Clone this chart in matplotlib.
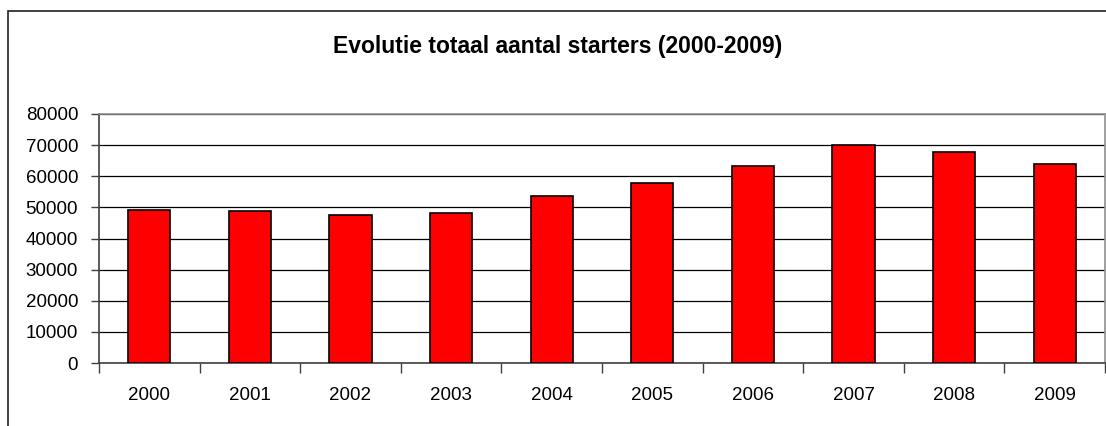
import numpy as np
import matplotlib.pyplot as plt
from matplotlib.patches import Rectangle

years = ['2000', '2001', '2002', '2003', '2004', '2005', '2006', '2007', '2008', '2009']
starters = [49250, 48700, 47650, 48100, 53750, 57700, 63300, 69900, 67800, 63800]
y_ticks = [0, 10000, 20000, 30000, 40000, 50000, 60000, 70000, 80000]

plt.rcParams['font.family'] = ['Liberation Sans', 'DejaVu Sans']

W, H = 1106, 426
fig = plt.figure(figsize=(W/100, H/100), dpi=100)
# plot area in pixels: x 99..1105, y 114..363
ax = fig.add_axes([99/W, 1-363/H, (1105-99)/W, (363-114)/H])

x = np.arange(len(years))
ax.bar(x, starters, width=0.42, color='#ff0000', edgecolor='black', linewidth=1.2, zorder=3)

ax.set_xlim(-0.5, len(years)-0.5)
ax.set_ylim(0, 80000)
ax.set_yticks(y_ticks)
ax.set_yticklabels([str(v) for v in y_ticks], fontsize=13.5)
ax.yaxis.grid(True, color='black', linewidth=0.9, zorder=0)
ax.set_axisbelow(True)

ax.set_xticks(x)
ax.set_xticklabels(years, fontsize=13.5)
ax.set_xticks(np.arange(-0.5, len(years)), minor=True)
ax.tick_params(axis='x', which='major', length=0, pad=17)
ax.tick_params(axis='x', which='minor', length=7, width=1, color='#404040')
ax.tick_params(axis='y', length=6, width=1, pad=9, color='#404040')

for s in ['top', 'right']:
    ax.spines[s].set_color('#909090')
    ax.spines[s].set_linewidth(1.2)
for s in ['left', 'bottom']:
    ax.spines[s].set_color('#404040')
    ax.spines[s].set_linewidth(1.2)

# outer chart frame, cut by the image edges
fig.patches.append(Rectangle((8/W, -0.1), 1.2, 1-11/H+0.1, transform=fig.transFigure,
                             fill=False, edgecolor='#202020', linewidth=1.2))

fig.text(558/W, 1-47/H, 'Evolutie totaal aantal starters (2000-2009)',
         ha='center', va='center', fontsize=16.5, fontweight='bold')

plt.savefig('out.png', dpi=100)
